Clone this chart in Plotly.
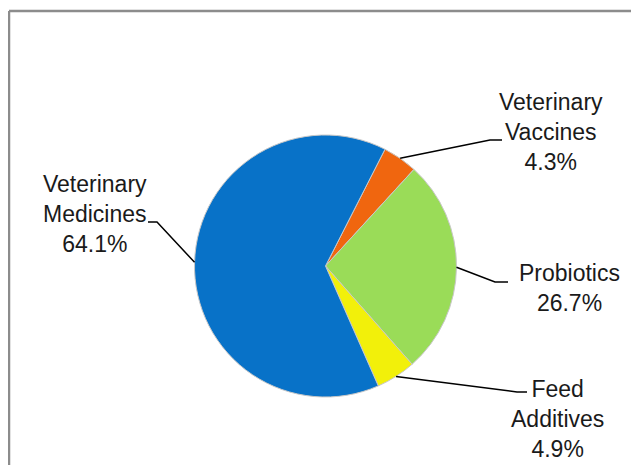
import math
import plotly.graph_objects as go

W, H = 639, 465
OFF = 8  # page offset of the figure inside the browser window

# ---- data ----
labels = ["Veterinary Vaccines", "Probiotics", "Feed Additives", "Veterinary Medicines"]
label_text = ["Veterinary<br>Vaccines<br>4.3%", "Probiotics<br>26.7%",
              "Feed<br>Additives<br>4.9%", "Veterinary<br>Medicines<br>64.1%"]
values = [4.3, 26.7, 4.9, 64.1]
colors = ["#F0660F", "#9ADC58", "#F2F00A", "#0872C8"]

# ---- layout constants (window pixels) ----
CX, CY, R = 325.5, 266.0, 131.0
ROTATION = 27
label_pos = [(551, 132), (569, 288), (557, 419), (95, 214)]
elbows = [((490, 140), (502, 140)),
          ((495, 282), (508, 282)),
          ((517, 392), (527, 392)),
          ((157, 222), (148, 222))]


def px(x):
    return (x - OFF) / W


def py(y):
    return 1 - (y - OFF) / H


fig = go.Figure()
fig.add_trace(go.Pie(
    labels=labels,
    values=values,
    sort=False,
    direction="clockwise",
    rotation=ROTATION,
    marker=dict(colors=colors, line=dict(color="#C8C8C8", width=1)),
    textinfo="none",
    hoverinfo="label+percent",
    showlegend=False,
    domain=dict(x=[px(CX - R), px(CX + R)], y=[py(CY + R), py(CY - R)]),
))

shapes = []
annotations = []
total = sum(values)
acc = 0.0
for i, v in enumerate(values):
    mid = ROTATION + (acc + v / 2) / total * 360.0
    acc += v
    a = math.radians(mid)
    ex, ey = CX + R * math.sin(a), CY - R * math.cos(a)
    (bx, by), (tx, ty) = elbows[i]
    shapes.append(dict(
        type="path", xref="paper", yref="paper",
        path=f"M {px(ex)} {py(ey)} L {px(bx)} {py(by)} L {px(tx)} {py(ty)}",
        line=dict(color="black", width=1.5),
    ))
    lx, ly = label_pos[i]
    annotations.append(dict(
        x=px(lx), y=py(ly), xref="paper", yref="paper",
        text=label_text[i], showarrow=False,
        xanchor="center", yanchor="middle", align="center",
        font=dict(family="Liberation Sans, Arial, sans-serif", size=23, color="#1a1a1a"),
    ))

# chart border (only top and left edges are visible)
shapes.append(dict(type="line", xref="paper", yref="paper",
                   x0=px(9), y0=py(11), x1=1.2, y1=py(11),
                   line=dict(color="#8C8C8C", width=2.5)))
shapes.append(dict(type="line", xref="paper", yref="paper",
                   x0=px(9), y0=py(11), x1=px(9), y1=-0.2,
                   line=dict(color="#8C8C8C", width=2.5)))

fig.update_layout(
    width=W, height=H,
    margin=dict(l=0, r=0, t=0, b=0),
    paper_bgcolor="white",
    plot_bgcolor="white",
    shapes=shapes,
    annotations=annotations,
)

fig.write_html("out.html")
